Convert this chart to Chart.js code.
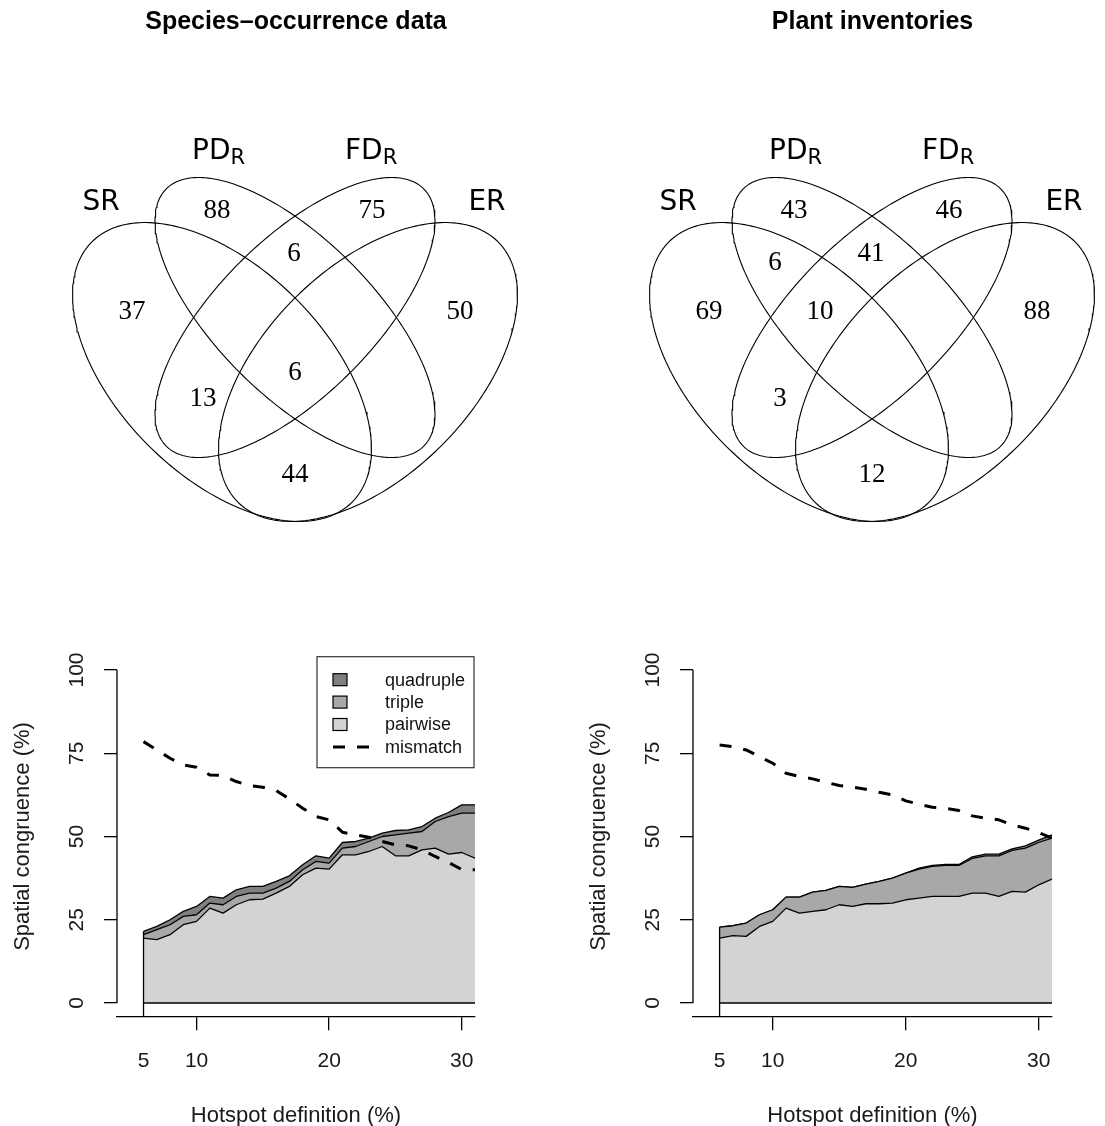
<!DOCTYPE html>
<html>
<head>
<meta charset="utf-8">
<script src="https://cdn.jsdelivr.net/npm/chart.js@4.4.1/dist/chart.umd.min.js"></script>
<style>
  html, body { margin: 0; padding: 0; background: #fff; }
  body { width: 1105px; height: 1126px; position: relative; overflow: hidden; }
  canvas { position: absolute; }
  #vennSpecies { left: 0; top: 0; }
  #vennPlants { left: 640px; top: 0; }
  #congSpecies { left: 0; top: 620px; }
  #congPlants { left: 576px; top: 620px; }
</style>
</head>
<body>
<canvas id="vennSpecies" width="592" height="560"></canvas>
<canvas id="vennPlants" width="465" height="560"></canvas>
<canvas id="congSpecies" width="576" height="506"></canvas>
<canvas id="congPlants" width="529" height="506"></canvas>
<script>
// Venn diagrams: hotspot cells shared by each combination of metrics
const vennRegions = ['SR', 'PDR', 'FDR', 'ER', 'SR+PDR', 'PDR+FDR', 'SR+PDR+FDR', 'SR+FDR', 'SR+PDR+FDR+ER', 'SR+ER'];
const speciesCounts = [37, 88, 75, 50, null, 6, null, 13, 6, 44];
const plantCounts   = [69, 43, 46, 88, 6, 41, 10, 3, null, 12];

// congruence curves (x position of each hotspot definition step)
const hotspotPos = [6, 7, 8, 9, 10, 11, 12, 13, 14, 15, 16, 17, 18, 19, 20, 21, 22, 23, 24, 25, 26, 27, 28, 29, 30, 31];
const xTicks = [6, 10, 20, 30];
const xTickLabels = ['5', '10', '20', '30'];
const yTicks = [0, 25, 50, 75, 100];

const spPairwise  = [19.5, 19.0, 20.5, 23.5, 24.5, 28.5, 27.0, 29.5, 31.0, 31.2, 33.0, 35.0, 38.5, 40.5, 40.2, 44.5, 44.5, 45.5, 47.0, 44.2, 44.2, 46.0, 46.5, 44.7, 45.2, 43.5];
const spTriple    = [1.0, 3.0, 3.0, 2.5, 2.0, 1.5, 2.5, 2.5, 2.0, 1.8, 1.5, 1.5, 1.5, 2.0, 1.8, 2.0, 2.5, 3.0, 3.0, 6.3, 6.8, 5.5, 8.0, 11.3, 11.8, 13.5];
const spQuadruple = [1.0, 1.0, 1.5, 1.5, 2.5, 2.0, 2.0, 2.0, 2.0, 2.0, 2.0, 1.7, 1.5, 1.7, 1.5, 1.7, 1.5, 1.0, 1.0, 1.3, 1.0, 1.5, 1.0, 1.2, 2.5, 2.5];
const spMismatch  = [78.5, 76.0, 73.5, 71.5, 70.8, 68.5, 68.3, 66.5, 65.3, 64.8, 63.8, 61.3, 58.5, 56.0, 55.0, 51.3, 50.5, 49.8, 48.5, 47.5, 47.2, 46.0, 44.0, 42.2, 40.1, 40.0];

const plPairwise  = [19.5, 20.2, 20.0, 23.0, 24.5, 28.5, 27.0, 27.5, 28.0, 29.5, 29.0, 29.8, 29.8, 30.0, 31.0, 31.5, 32.0, 32.0, 32.0, 33.0, 33.0, 32.0, 33.5, 33.3, 35.5, 37.2];
const plTriple    = [3.3, 3.0, 4.0, 3.5, 3.5, 3.3, 4.8, 5.8, 5.8, 5.5, 5.7, 5.9, 6.7, 7.5, 8.0, 8.7, 9.0, 9.3, 9.3, 10.4, 11.2, 12.2, 12.3, 13.2, 12.7, 12.3];
const plQuadruple = [0, 0, 0, 0, 0, 0, 0, 0, 0, 0, 0, 0, 0, 0, 0, 0.3, 0.3, 0.3, 0.3, 0.5, 0.5, 0.5, 0.5, 0.7, 0.7, 1.0];
const plMismatch  = [77.5, 77.0, 76.0, 74.0, 72.0, 69.0, 68.0, 67.3, 66.3, 65.3, 64.8, 64.2, 63.3, 62.5, 60.7, 59.7, 58.8, 58.5, 57.8, 56.2, 55.5, 55.0, 53.5, 52.5, 51.2, 49.5];

// diagram layout (page px, x relative to the diagram's middle)
const vennShapes = [
    { dx: -73, cy: 372, a: 184, b: 104, tilt: 45 },   // SR
    { dx: 0, cy: 317.5, a: 182, b: 78, tilt: 45 },    // PD
    { dx: 0, cy: 317.5, a: 182, b: 78, tilt: -45 },   // FD
    { dx: 73, cy: 372, a: 184, b: 104, tilt: -45 }    // ER
];
const regionSpots = [[-163, 312], [-78, 211], [77, 211], [165, 312], [-97, 263], [-1, 254], [-52, 312], [-92, 399], [0, 373], [0, 475]];
const setNames = ['SR', 'PD', 'FD', 'ER'];
const setSubs = ['', 'R', 'R', ''];
const setSpots = [[-194, 210, 'center'], [-103, 159, 'left'], [50, 159, 'left'], [192, 210, 'center']];

Chart.defaults.font.family = "'Liberation Sans', Arial, sans-serif";
Chart.defaults.color = '#000';

function ellipsePoints(cx, cy, a, b, tiltDeg) {
    const th = tiltDeg * Math.PI / 180;
    const pts = [];
    for (let k = 0; k <= 240; k++) {
        const t = k / 240 * 2 * Math.PI;
        pts.push({
            x: cx + a * Math.cos(t) * Math.cos(th) - b * Math.sin(t) * Math.sin(th),
            y: cy + a * Math.cos(t) * Math.sin(th) + b * Math.sin(t) * Math.cos(th)
        });
    }
    return pts;
}

const vennText = {
    id: 'vennText',
    afterDatasetsDraw(chart, args, opts) {
        const { ctx } = chart;
        const sx = chart.scales.x, sy = chart.scales.y;
        ctx.save();
        ctx.fillStyle = '#000';
        ctx.textAlign = 'center';
        ctx.textBaseline = 'middle';
        ctx.font = '27px "Liberation Serif", "Times New Roman", serif';
        opts.counts.forEach((n, i) => {
            if (n == null) return;
            const [dx, y] = regionSpots[i];
            ctx.fillText(String(n), sx.getPixelForValue(opts.x0 + dx), sy.getPixelForValue(y));
        });
        ctx.textBaseline = 'alphabetic';
        setNames.forEach((name, i) => {
            const [dx, y, align] = setSpots[i];
            const px = sx.getPixelForValue(opts.x0 + dx), py = sy.getPixelForValue(y);
            ctx.font = '28px "DejaVu Sans", sans-serif';
            ctx.textAlign = align;
            ctx.fillText(name, px, py);
            if (setSubs[i]) {
                const w = ctx.measureText(name).width;
                ctx.font = '21px "DejaVu Sans", sans-serif';
                ctx.textAlign = 'left';
                ctx.fillText(setSubs[i], px + w, py + 5);
            }
        });
        ctx.restore();
    }
};

function vennChart(id, title, counts, x0, left) {
    const canvas = document.getElementById(id);
    const titleFont = { size: 25, weight: 'bold', lineHeight: 1.2 };
    const titlePad = { top: 7, bottom: 10 };
    const titleBlock = titleFont.size * titleFont.lineHeight + titlePad.top + titlePad.bottom;
    const datasets = vennShapes.map((s, i) => ({
        label: setNames[i],
        data: ellipsePoints(x0 + s.dx, s.cy, s.a, s.b, s.tilt),
        showLine: true,
        pointRadius: 0,
        borderColor: '#000',
        borderWidth: 1.1,
        fill: false
    }));
    return new Chart(canvas, {
        type: 'scatter',
        data: { datasets },
        options: {
            responsive: false,
            animation: false,
            layout: { padding: 0 },
            plugins: {
                legend: { display: false },
                tooltip: { enabled: false },
                title: { display: true, text: title, font: titleFont, padding: titlePad, color: '#000' },
                vennText: { counts, x0 }
            },
            scales: {
                x: { type: 'linear', display: false, min: left, max: left + canvas.width },
                y: { type: 'linear', display: false, reverse: true, min: titleBlock, max: canvas.height }
            }
        },
        plugins: [vennText]
    });
}

// y axis line only from 0 to 100, like R's axis()
const partialAxis = {
    id: 'partialAxis',
    afterDraw(chart) {
        const { ctx, chartArea } = chart;
        const sy = chart.scales.y;
        ctx.save();
        ctx.strokeStyle = '#000';
        ctx.lineWidth = 1.3;
        ctx.beginPath();
        ctx.moveTo(chartArea.left, sy.getPixelForValue(yTicks[0]));
        ctx.lineTo(chartArea.left, sy.getPixelForValue(yTicks[yTicks.length - 1]));
        ctx.stroke();
        ctx.restore();
    }
};

const boxLegend = {
    id: 'boxLegend',
    afterDraw(chart, args, opts) {
        if (!opts.items) return;
        const { ctx, chartArea } = chart;
        const w = 157, h = 111;
        const x = chartArea.right - w - 1, y = chartArea.top;
        ctx.save();
        ctx.fillStyle = '#fff';
        ctx.fillRect(x, y, w, h);
        ctx.strokeStyle = '#333';
        ctx.lineWidth = 1.2;
        ctx.strokeRect(x, y, w, h);
        ctx.font = '18px "Liberation Sans", Arial, sans-serif';
        ctx.textBaseline = 'middle';
        ctx.textAlign = 'left';
        opts.items.forEach((label, i) => {
            const ds = chart.data.datasets.find(d => d.label === label);
            const ry = y + 23 + i * 22.4;
            if (ds.fill) {
                ctx.fillStyle = ds.backgroundColor;
                ctx.fillRect(x + 16, ry - 6, 14, 12);
                ctx.strokeStyle = '#000';
                ctx.lineWidth = 1.2;
                ctx.strokeRect(x + 16, ry - 6, 14, 12);
            } else {
                ctx.strokeStyle = ds.borderColor;
                ctx.lineWidth = ds.borderWidth;
                ctx.setLineDash(ds.borderDash);
                ctx.beginPath();
                ctx.moveTo(x + 16, ry);
                ctx.lineTo(x + 53, ry);
                ctx.stroke();
                ctx.setLineDash([]);
            }
            ctx.fillStyle = '#111';
            ctx.fillText(label, x + 68, ry + 1);
        });
        ctx.restore();
    }
};

function congruenceChart(id, pairwise, triple, quadruple, mismatch, withLegend, rightPad) {
    const pts = v => hotspotPos.map((x, i) => ({ x, y: v[i] }));
    const area = {
        stack: 'cong', pointRadius: 0, borderColor: '#000', borderWidth: 1.3,
        tension: 0, borderJoinStyle: 'round', order: 2
    };
    const top0 = pairwise[0] + triple[0] + quadruple[0];
    return new Chart(document.getElementById(id), {
        type: 'line',
        data: {
            datasets: [
                { ...area, label: 'pairwise', data: pts(pairwise), backgroundColor: '#d3d3d3', fill: 'origin' },
                { ...area, label: 'triple', data: pts(triple), backgroundColor: '#a8a8a8', fill: '-1' },
                { ...area, label: 'quadruple', data: pts(quadruple), backgroundColor: '#808080', fill: '-1' },
                {
                    label: 'base', stack: 'base', data: hotspotPos.map(x => ({ x, y: 0 })),
                    pointRadius: 0, borderColor: '#000', borderWidth: 1.3, fill: false, order: 1
                },
                {
                    label: 'edge', stack: 'edge', data: [{ x: hotspotPos[0], y: -4 }, { x: hotspotPos[0], y: top0 }],
                    pointRadius: 0, borderColor: '#000', borderWidth: 1.3, fill: false, order: 1
                },
                {
                    label: 'mismatch', stack: 'mm', data: pts(mismatch), pointRadius: 0,
                    borderColor: '#000', borderWidth: 3, borderDash: [12, 12], fill: false,
                    tension: 0, borderJoinStyle: 'round', order: -1
                }
            ]
        },
        options: {
            responsive: false,
            animation: false,
            layout: { padding: { top: 36.7, right: rightPad, bottom: 0, left: 0 } },
            plugins: {
                legend: { display: false },
                tooltip: { enabled: false },
                boxLegend: withLegend ? { items: ['quadruple', 'triple', 'pairwise', 'mismatch'] } : {}
            },
            scales: {
                x: {
                    type: 'linear', min: 4, max: 31,
                    afterBuildTicks: s => { s.ticks = xTicks.map(v => ({ value: v })); },
                    afterFit: s => { s.height = 109.7; },
                    ticks: {
                        callback: (v, i) => xTickLabels[i],
                        font: { size: 21 }, color: '#1a1a1a', padding: 18,
                        maxRotation: 0, autoSkip: false
                    },
                    grid: {
                        drawOnChartArea: false, drawTicks: true, tickLength: 14, lineWidth: 1.3,
                        color: ctx => ctx.index === 0 ? 'rgba(0,0,0,0)' : '#000'
                    },
                    border: { display: true, color: '#000', width: 1.3 },
                    title: {
                        display: true, text: 'Hotspot definition (%)', color: '#1a1a1a',
                        font: { size: 22, lineHeight: 1 }, padding: { top: 0, bottom: -1 }
                    }
                },
                y: {
                    type: 'linear', min: -4, max: 104, stacked: true,
                    afterBuildTicks: s => { s.ticks = yTicks.map(v => ({ value: v })); },
                    afterFit: s => { s.width = 117; },
                    ticks: {
                        minRotation: 90, maxRotation: 90, crossAlign: 'center', padding: 9.5,
                        font: { size: 21 }, color: '#1a1a1a', autoSkip: false
                    },
                    grid: { drawOnChartArea: false, drawTicks: true, tickLength: 13, color: '#000', lineWidth: 1.3 },
                    border: { display: false },
                    title: {
                        display: true, text: 'Spatial congruence (%)', color: '#1a1a1a',
                        font: { size: 22, lineHeight: 1 }, padding: { top: 12, bottom: 0 }
                    }
                }
            }
        },
        plugins: [partialAxis, boxLegend]
    });
}

vennChart('vennSpecies', 'Species\u2013occurrence data', speciesCounts, 295, 0);
vennChart('vennPlants', 'Plant inventories', plantCounts, 872, 640);
congruenceChart('congSpecies', spPairwise, spTriple, spQuadruple, spMismatch, true, 101);
congruenceChart('congPlants', plPairwise, plTriple, plQuadruple, plMismatch, false, 53);
</script>
</body>
</html>
